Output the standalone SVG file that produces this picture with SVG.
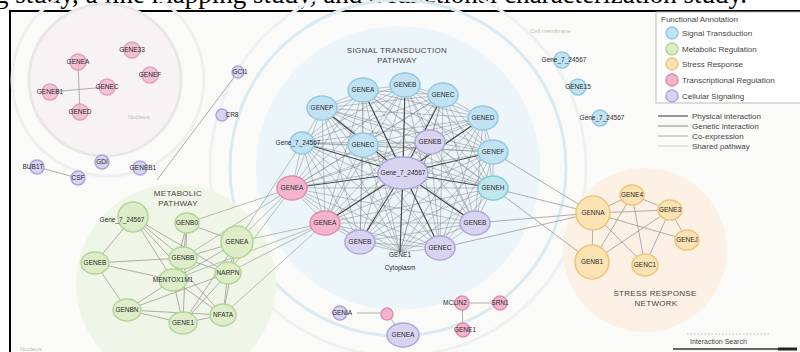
<svg xmlns="http://www.w3.org/2000/svg" width="800" height="352" viewBox="0 0 800 352">
<style>
.blue{fill:#c0e2f2;stroke:#92c8e3;stroke-width:1.5}
.green{fill:#dcedc8;stroke:#b2d598;stroke-width:1.5}
.yel{fill:#fbe3b4;stroke:#efc57c;stroke-width:1.5}
.pink{fill:#f2b5cd;stroke:#e38bae;stroke-width:1.5}
.lav{fill:#d8d3f1;stroke:#ada5dc;stroke-width:1.5}
.teal{fill:#bfe6ee;stroke:#7fcad9;stroke-width:1.5}
text{font-family:"Liberation Sans",Arial,sans-serif}
.lbl{font-size:6.5px;fill:#2a2a2a;text-anchor:middle}
.clab{font-size:8px;fill:#444;text-anchor:middle;letter-spacing:.3px}
.faint{font-size:6px;fill:#bbb}
.mesh{stroke:#7a7a7a;stroke-width:.55;fill:none;opacity:.8}
.spoke{stroke:#4a4a4a;stroke-width:1.1;fill:none}
.edge{stroke:#9c9c9c;stroke-width:.8;fill:none}
.xedge{stroke:#a6b29c;stroke-width:.8;fill:none}
.leg{font-size:8px;fill:#444}
</style>
<rect width="800" height="352" fill="#fff"/>
<text x="-26" y="3" font-size="27" textLength="773" lengthAdjust="spacing" style="font-family:'Liberation Serif',serif" fill="#000">ing study, a line mapping study, and a functional characterization study.</text>
<rect x="10" y="11" width="800" height="360" fill="#fafbf9" stroke="#000" stroke-width="2"/>

<g id="backdrops">
<circle cx="398" cy="168" r="188" fill="none" stroke="#eef0f2" stroke-width="3"/>
<circle cx="398" cy="168" r="168" fill="none" stroke="#dbe9f1" stroke-width="3"/>
<circle cx="398" cy="168" r="142" fill="#ebf5fa"/>
<circle cx="176" cy="284" r="100" fill="#eff6e7"/>
<circle cx="645" cy="250" r="82" fill="#fdf1e6"/>
<circle cx="108" cy="80" r="96" fill="none" stroke="#efefef" stroke-width="3"/>
<circle cx="105" cy="80" r="76" fill="#f7f3f4" stroke="#e8e6e6" stroke-width="3"/>
<text x="128" y="119" class="faint">Nucleus</text>
<text x="530" y="33" class="faint">Cell membrane</text>
<text x="20" y="351" class="faint">Nucleus</text>
</g>

<g id="connectors">
<path class="mesh" d="M363 90L405 85M363 90L443 95M363 90L483 118M363 90L493 152M363 90L493 188M363 90L475 223M363 90L440 248M363 90L400 252M363 90L360 242M363 90L325 223M363 90L292 188M363 90L302 143M363 90L322 108
M405 85L443 95M405 85L483 118M405 85L493 152M405 85L493 188M405 85L475 223M405 85L440 248M405 85L400 252M405 85L360 242M405 85L325 223M405 85L292 188M405 85L302 143M405 85L322 108
M443 95L483 118M443 95L493 152M443 95L493 188M443 95L475 223M443 95L440 248M443 95L400 252M443 95L360 242M443 95L325 223M443 95L292 188M443 95L302 143M443 95L322 108
M483 118L493 152M483 118L493 188M483 118L475 223M483 118L440 248M483 118L400 252M483 118L360 242M483 118L325 223M483 118L292 188M483 118L302 143M483 118L322 108
M493 152L493 188M493 152L475 223M493 152L440 248M493 152L400 252M493 152L360 242M493 152L325 223M493 152L292 188M493 152L302 143M493 152L322 108
M493 188L475 223M493 188L440 248M493 188L400 252M493 188L360 242M493 188L325 223M493 188L292 188M493 188L302 143M493 188L322 108
M475 223L440 248M475 223L400 252M475 223L360 242M475 223L325 223M475 223L292 188M475 223L302 143M475 223L322 108
M440 248L400 252M440 248L360 242M440 248L325 223M440 248L292 188M440 248L302 143M440 248L322 108
M400 252L360 242M400 252L325 223M400 252L292 188M400 252L302 143M400 252L322 108
M360 242L325 223M360 242L292 188M360 242L302 143M360 242L322 108
M325 223L292 188M325 223L302 143M325 223L322 108M292 188L302 143M292 188L322 108M302 143L322 108
M363 145L363 90M363 145L405 85M363 145L443 95M363 145L483 118M363 145L493 152M363 145L493 188M363 145L475 223M363 145L440 248M363 145L400 252M363 145L360 242M363 145L325 223M363 145L292 188M363 145L302 143M363 145L322 108M363 145L430 142
M430 142L363 90M430 142L405 85M430 142L443 95M430 142L483 118M430 142L493 152M430 142L493 188M430 142L475 223M430 142L440 248M430 142L400 252M430 142L360 242M430 142L325 223M430 142L292 188M430 142L302 143M430 142L322 108"/>
<path class="spoke" d="M403 173L363 90M403 173L405 85M403 173L443 95M403 173L483 118M403 173L493 152M403 173L493 188M403 173L475 223M403 173L440 248M403 173L400 252M403 173L360 242M403 173L325 223M403 173L292 188M403 173L302 143M403 173L322 108"/>
<path class="edge" d="M133 217L95 263M133 217L183 258M133 217L173 280M133 217L228 273M133 217L223 315M187 223L183 258M187 223L173 280M187 223L183 323M187 223L237 242M95 263L183 258M95 263L127 310M95 263L173 280M183 258L237 242M183 258L228 273M183 258L173 280M173 280L237 242M173 280L127 310M173 280L183 323M173 280L223 315M237 242L228 273M237 242L183 323M237 242L223 315M228 273L183 323M228 273L223 315M127 310L183 323M127 310L223 315M183 323L223 315M127 310L228 273"/>
<path class="xedge" d="M237 242L292 188M237 242L325 223M228 273L325 223M228 273L292 188M183 258L292 188M187 223L292 188M173 280L325 223M237 242L302 143M223 315L325 223"/>
<path class="edge" d="M493 188L593 213M475 223L593 213M493 152L593 213M440 248L593 213M493 188L592 262"/>
<path class="edge" d="M593 213L632 195M593 213L670 210M593 213L592 262M593 213L645 265M632 195L592 262M632 195L645 265M632 195L670 210M670 210L592 262M670 210L645 265M670 210L687 240M593 213L687 240"/>
<path class="edge" d="M78 62L80 112M50 92L107 87M238 72L157 180M37 167L78 178M357 313L383 313M387 314L403 335M462 303L463 330M462 303L500 303"/>
</g>

<g id="cluster-labels">
<text x="397" y="53" class="clab">SIGNAL TRANSDUCTION</text>
<text x="397" y="63" class="clab">PATHWAY</text>
<text x="178" y="196" class="clab">METABOLIC</text>
<text x="178" y="206" class="clab">PATHWAY</text>
<text x="655" y="296" class="clab">STRESS RESPONSE</text>
<text x="656" y="306" class="clab">NETWORK</text>
</g>

<g id="n-c1"><ellipse cx="363" cy="90" rx="15" ry="12" class="blue"/><text x="363" y="92" class="lbl">GENEA</text></g>
<g id="n-c2"><ellipse cx="405" cy="85" rx="15" ry="12" class="blue"/><text x="405" y="87" class="lbl">GENEB</text></g>
<g id="n-c3"><ellipse cx="443" cy="95" rx="15" ry="12" class="blue"/><text x="443" y="97" class="lbl">GENEC</text></g>
<g id="n-c4"><ellipse cx="483" cy="118" rx="15" ry="12" class="blue"/><text x="483" y="120" class="lbl">GENED</text></g>
<g id="n-c5"><ellipse cx="493" cy="152" rx="15" ry="12" class="blue"/><text x="493" y="154" class="lbl">GENEF</text></g>
<g id="n-c6"><ellipse cx="493" cy="188" rx="15" ry="12" class="teal"/><text x="493" y="190" class="lbl">GENEH</text></g>
<g id="n-c7"><ellipse cx="475" cy="223" rx="15" ry="12" class="lav"/><text x="475" y="225" class="lbl">GENEB</text></g>
<g id="n-c8"><ellipse cx="440" cy="248" rx="15" ry="12" class="lav"/><text x="440" y="250" class="lbl">GENEC</text></g>
<g id="n-c9"><text x="400" y="257" class="lbl">GENE1</text><text x="400" y="270" class="lbl">Cytoplasm</text></g>
<g id="n-c10"><ellipse cx="360" cy="242" rx="15" ry="12" class="lav"/><text x="360" y="244" class="lbl">GENEB</text></g>
<g id="n-c11"><ellipse cx="325" cy="223" rx="15" ry="12" class="pink"/><text x="325" y="225" class="lbl">GENEA</text></g>
<g id="n-c12"><ellipse cx="292" cy="188" rx="15" ry="12" class="pink"/><text x="292" y="190" class="lbl">GENEA</text></g>
<g id="n-c13"><ellipse cx="302" cy="143" rx="12" ry="11" class="blue"/><text x="298" y="145" class="lbl">Gene_7_24567</text></g>
<g id="n-c14"><ellipse cx="322" cy="108" rx="15" ry="12" class="blue"/><text x="322" y="110" class="lbl">GENEP</text></g>
<g id="n-i1"><ellipse cx="363" cy="145" rx="15" ry="12" class="blue"/><text x="363" y="147" class="lbl">GENEC</text></g>
<g id="n-i2"><ellipse cx="430" cy="142" rx="15" ry="12" class="lav"/><text x="430" y="144" class="lbl">GENEB</text></g>
<g id="n-ctr"><ellipse cx="403" cy="173" rx="25" ry="16" class="lav"/><text x="403" y="175" class="lbl">Gene_7_24567</text></g>

<g id="n-m1"><circle cx="133" cy="217" r="15" class="green"/><text x="122" y="222" class="lbl">Gene_7_24567</text></g>
<g id="n-m2"><ellipse cx="187" cy="223" rx="12" ry="10" class="green"/><text x="187" y="225" class="lbl">GENB0</text></g>
<g id="n-m3"><ellipse cx="95" cy="263" rx="14" ry="11" class="green"/><text x="95" y="265" class="lbl">GENEB</text></g>
<g id="n-m4"><ellipse cx="183" cy="258" rx="14" ry="11" class="green"/><text x="183" y="260" class="lbl">GENBB</text></g>
<g id="n-m5"><ellipse cx="173" cy="280" rx="14" ry="11" class="green"/><text x="173" y="282" class="lbl">MENTOX1M1</text></g>
<g id="n-m6"><circle cx="237" cy="242" r="16" class="green"/><text x="237" y="244" class="lbl">GENEA</text></g>
<g id="n-m7"><ellipse cx="228" cy="273" rx="13" ry="11" class="green"/><text x="228" y="275" class="lbl">NARPN</text></g>
<g id="n-m8"><ellipse cx="127" cy="310" rx="14" ry="11" class="green"/><text x="127" y="312" class="lbl">GENBN</text></g>
<g id="n-m9"><ellipse cx="183" cy="323" rx="14" ry="11" class="green"/><text x="183" y="325" class="lbl">GENE1</text></g>
<g id="n-m10"><ellipse cx="223" cy="315" rx="13" ry="11" class="green"/><text x="223" y="317" class="lbl">NFATA</text></g>

<g id="n-s1"><ellipse cx="632" cy="195" rx="12" ry="10" class="yel"/><text x="632" y="197" class="lbl">GENE4</text></g>
<g id="n-s2"><circle cx="593" cy="213" r="17" class="yel"/><text x="593" y="215" class="lbl">GENNA</text></g>
<g id="n-s3"><ellipse cx="670" cy="210" rx="12" ry="10" class="yel"/><text x="670" y="212" class="lbl">GENE3</text></g>
<g id="n-s4"><ellipse cx="687" cy="240" rx="12" ry="10" class="yel"/><text x="687" y="242" class="lbl">GENEJ</text></g>
<g id="n-s5"><circle cx="592" cy="262" r="17" class="yel"/><text x="592" y="264" class="lbl">GENB1</text></g>
<g id="n-s6"><ellipse cx="645" cy="265" rx="13" ry="11" class="yel"/><text x="645" y="267" class="lbl">GENC1</text></g>

<g id="n-t1"><circle cx="78" cy="62" r="8" class="pink" opacity=".8"/><text x="78" y="64" class="lbl">GENEA</text></g>
<g id="n-t2"><circle cx="132" cy="50" r="8" class="pink" opacity=".8"/><text x="132" y="52" class="lbl">GENE33</text></g>
<g id="n-t3"><circle cx="150" cy="75" r="8" class="pink" opacity=".8"/><text x="150" y="77" class="lbl">GENEF</text></g>
<g id="n-t4"><circle cx="50" cy="92" r="8" class="pink" opacity=".8"/><text x="50" y="94" class="lbl">GENEB1</text></g>
<g id="n-t5"><circle cx="107" cy="87" r="8" class="pink" opacity=".8"/><text x="107" y="89" class="lbl">GENEC</text></g>
<g id="n-t6"><circle cx="80" cy="112" r="8" class="pink" opacity=".8"/><text x="80" y="114" class="lbl">GENED</text></g>

<g id="n-gci1"><circle cx="238" cy="72" r="6" class="lav"/><text x="240" y="74" class="lbl">GCI1</text></g>
<g id="n-cr8"><circle cx="222" cy="115" r="6" class="lav"/><text x="232" y="117" class="lbl">CR8</text></g>
<g id="n-bub"><circle cx="37" cy="167" r="7" class="lav"/><text x="33" y="169" class="lbl">BUB1T</text></g>
<g id="n-csf"><circle cx="78" cy="178" r="7" class="lav"/><text x="78" y="180" class="lbl">CSF</text></g>
<g id="n-gdi"><circle cx="102" cy="162" r="7" class="lav"/><text x="102" y="164" class="lbl">GDI</text></g>
<g id="n-geneb1"><circle cx="140" cy="168" r="7" class="lav"/><text x="143" y="170" class="lbl">GENEB1</text></g>

<g id="n-r1"><circle cx="562" cy="60" r="8" class="blue"/><text x="564" y="62" class="lbl">Gene_7_24567</text></g>
<g id="n-r2"><circle cx="578" cy="87" r="8" class="blue"/><text x="578" y="89" class="lbl">GENE15</text></g>
<g id="n-r3"><circle cx="600" cy="118" r="8" class="blue"/><text x="602" y="120" class="lbl">Gene_7_24567</text></g>

<g id="n-b1"><circle cx="340" cy="313" r="7" class="lav"/><text x="342" y="315" class="lbl">GENIA</text></g>
<g id="n-b2"><circle cx="387" cy="314" r="6" class="pink"/></g>
<g id="n-b3"><ellipse cx="403" cy="335" rx="16" ry="12" class="lav"/><text x="403" y="337" class="lbl">GENEA</text></g>
<g id="n-b4"><circle cx="462" cy="303" r="7" class="pink"/><text x="455" y="305" class="lbl">MCLIN2</text></g>
<g id="n-b5"><circle cx="500" cy="303" r="7" class="pink"/><text x="500" y="305" class="lbl">SRN1</text></g>
<g id="n-b6"><circle cx="463" cy="330" r="7" class="pink"/><text x="465" y="332" class="lbl">GENE1</text></g>

<g id="legend">
<rect x="656" y="12" width="150" height="91" fill="#fff" stroke="#bbb"/>
<text x="661" y="22" class="leg">Functional Annotation</text>
<circle cx="672" cy="33" r="6" class="blue"/><text x="682" y="36" class="leg">Signal Transduction</text>
<circle cx="672" cy="49" r="6" class="green"/><text x="682" y="52" class="leg">Metabolic Regulation</text>
<circle cx="672" cy="64" r="6" class="yel"/><text x="682" y="67" class="leg">Stress Response</text>
<circle cx="672" cy="80" r="6" class="pink"/><text x="682" y="83" class="leg">Transcriptional Regulation</text>
<circle cx="672" cy="96" r="6" class="lav"/><text x="682" y="99" class="leg">Cellular Signaling</text>
<line x1="658" y1="116" x2="688" y2="116" stroke="#555" stroke-width="1.2"/><text x="692" y="119" class="leg">Physical interaction</text>
<line x1="658" y1="126" x2="688" y2="126" stroke="#888"/><text x="692" y="129" class="leg">Genetic interaction</text>
<line x1="658" y1="136" x2="688" y2="136" stroke="#aaa"/><text x="692" y="139" class="leg">Co-expression</text>
<line x1="658" y1="146" x2="688" y2="146" stroke="#ccc"/><text x="692" y="149" class="leg">Shared pathway</text>
</g>

<g id="search">
<line x1="687" y1="334" x2="770" y2="334" stroke="#bbb" stroke-dasharray="1.5 2"/>
<text x="690" y="344" font-size="7" fill="#444">Interaction Search</text>
<line x1="673" y1="349" x2="785" y2="349" stroke="#666" stroke-width="2"/>
<line x1="778" y1="349" x2="797" y2="349" stroke="#222" stroke-width="3"/>
</g>
</svg>
